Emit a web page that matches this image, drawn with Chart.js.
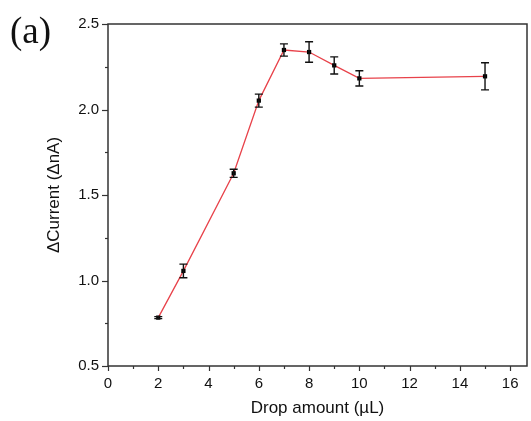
<!DOCTYPE html>
<html>
<head>
<meta charset="utf-8">
<script src="https://cdn.jsdelivr.net/npm/chart.js@4/dist/chart.umd.min.js"></script>
<style>
  html, body { margin: 0; padding: 0; background: #fff; }
  #wrap { width: 531px; height: 421px; position: relative; }
</style>
</head>
<body>
<div id="wrap"><canvas id="c"></canvas></div>
<script>
// --- data ---
const dropAmount = [2, 3, 5, 6, 7, 8, 9, 10, 15];
const deltaCurrent = [0.783, 1.056, 1.627, 2.052, 2.348, 2.336, 2.258, 2.182, 2.194];
const errCurrent = [0.006, 0.04, 0.024, 0.038, 0.036, 0.06, 0.05, 0.045, 0.079];
const xTicks = [0, 2, 4, 6, 8, 10, 12, 14, 16];
const yTicks = [0.5, 1.0, 1.5, 2.0, 2.5];

const axisColor = '#333';
const tickFont = '15px "Liberation Sans", Arial, sans-serif';
const titleFont = '17px "Liberation Sans", Arial, sans-serif';

// frame, ticks, error bars, titles
const decor = {
  id: 'decor',
  beforeDatasetsDraw(chart) {
    const { ctx, chartArea: a, scales: { x, y } } = chart;
    ctx.save();
    ctx.strokeStyle = axisColor;
    ctx.lineWidth = 1.5;
    ctx.strokeRect(a.left, a.top, a.right - a.left, a.bottom - a.top);

    ctx.lineWidth = 1.2;
    // x ticks: major every 2, minor every 1
    for (let v = 0; v <= x.max; v += 1) {
      const px = Math.round(x.getPixelForValue(v)) + 0.5;
      const len = v % 2 === 0 ? 5 : 3;
      ctx.beginPath();
      ctx.moveTo(px, a.bottom);
      ctx.lineTo(px, a.bottom + len);
      ctx.stroke();
    }
    // y ticks: major every 0.5, minor every 0.25
    for (let i = 0; i <= 8; i++) {
      const v = 0.5 + i * 0.25;
      const py = Math.round(y.getPixelForValue(v)) + 0.5;
      const len = i % 2 === 0 ? 6 : 3;
      ctx.beginPath();
      ctx.moveTo(a.left, py);
      ctx.lineTo(a.left - len, py);
      ctx.stroke();
    }

    // tick labels
    ctx.fillStyle = '#111';
    ctx.font = tickFont;
    ctx.textAlign = 'center';
    ctx.textBaseline = 'middle';
    xTicks.forEach(v => ctx.fillText(String(v), x.getPixelForValue(v), a.bottom + 18));
    ctx.textAlign = 'right';
    yTicks.forEach(v => ctx.fillText(v.toFixed(1), a.left - 9, y.getPixelForValue(v)));

    // axis titles
    ctx.font = titleFont;
    ctx.textAlign = 'center';
    ctx.fillText('Drop amount (\u00b5L)', (a.left + a.right) / 2, 408);
    ctx.save();
    ctx.translate(54, (a.top + a.bottom) / 2);
    ctx.rotate(-Math.PI / 2);
    ctx.fillText('\u0394Current (\u0394nA)', 0, 0);
    ctx.restore();

    // panel label
    ctx.font = '37px "Liberation Serif", "Times New Roman", serif';
    ctx.textAlign = 'left';
    ctx.textBaseline = 'alphabetic';
    ctx.fillText('(a)', 10, 43);
    ctx.restore();
  },
  afterDatasetsDraw(chart) {
    const { ctx, scales: { x, y } } = chart;
    ctx.save();
    ctx.strokeStyle = '#111';
    ctx.lineWidth = 1.4;
    dropAmount.forEach((d, i) => {
      const px = x.getPixelForValue(d);
      const top = y.getPixelForValue(deltaCurrent[i] + errCurrent[i]);
      const bot = y.getPixelForValue(deltaCurrent[i] - errCurrent[i]);
      ctx.beginPath();
      ctx.moveTo(px, top); ctx.lineTo(px, bot);
      ctx.moveTo(px - 4, top); ctx.lineTo(px + 4, top);
      ctx.moveTo(px - 4, bot); ctx.lineTo(px + 4, bot);
      ctx.stroke();
    });
    ctx.restore();
  }
};

new Chart(document.getElementById('c'), {
  type: 'scatter',
  data: {
    datasets: [{
      data: dropAmount.map((d, i) => ({ x: d, y: deltaCurrent[i] })),
      showLine: true,
      borderColor: '#e8424a',
      borderWidth: 1.3,
      pointStyle: 'rect',
      pointRadius: 3,
      pointBackgroundColor: '#000',
      pointBorderColor: '#000',
      pointBorderWidth: 0
    }]
  },
  options: {
    responsive: true,
    maintainAspectRatio: false,
    animation: false,
    layout: { padding: { left: 0, right: 1, top: 24, bottom: 0 } },
    plugins: { legend: { display: false }, tooltip: { enabled: false } },
    scales: {
      x: {
        type: 'linear', min: 0, max: 16.67,
        grid: { display: false, drawTicks: false },
        border: { display: false },
        ticks: { display: false },
        afterFit(s) { s.height = 55; }
      },
      y: {
        min: 0.5, max: 2.5,
        grid: { display: false, drawTicks: false },
        border: { display: false },
        ticks: { display: false },
        afterFit(s) { s.width = 108; }
      }
    }
  },
  plugins: [decor]
});
</script>
</body>
</html>
